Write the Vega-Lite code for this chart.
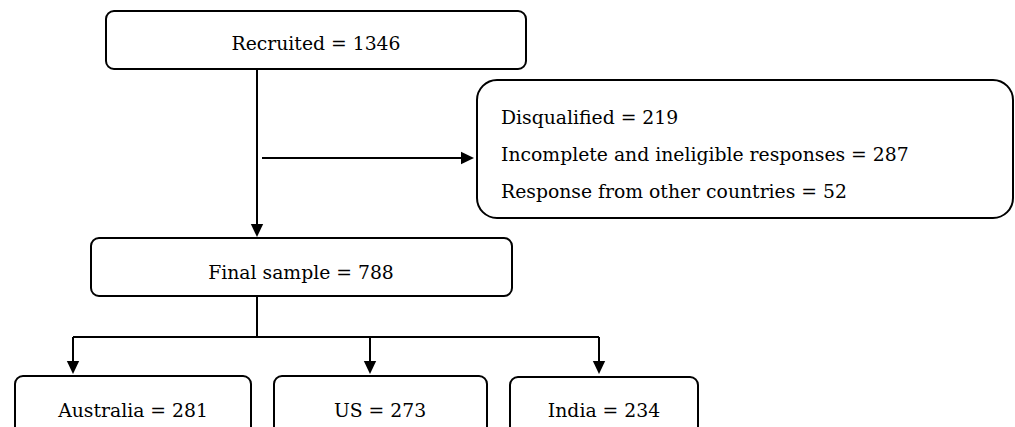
{
  "$schema": "https://vega.github.io/schema/vega-lite/v6.json",
  "width": 1015,
  "height": 427,
  "padding": 0,
  "autosize": {"type": "fit", "contains": "padding"},
  "background": "white",
  "config": {"view": {"stroke": null}},
  "datasets": {
    "boxes": [
      {"node": "Recruited", "x1": 106, "x2": 526, "y1": 11, "y2": 69, "kind": "small"},
      {"node": "Final sample", "x1": 91, "x2": 512, "y1": 238, "y2": 296, "kind": "small"},
      {"node": "Australia", "x1": 15, "x2": 251, "y1": 376, "y2": 440, "kind": "small"},
      {"node": "US", "x1": 274, "x2": 487, "y1": 376, "y2": 440, "kind": "small"},
      {"node": "India", "x1": 510, "x2": 698, "y1": 377, "y2": 440, "kind": "small"}
    ],
    "bigbox": [
      {"node": "Excluded", "x1": 477, "x2": 1013, "y1": 80, "y2": 218}
    ],
    "centerLabels": [
      {"label": "Recruited = 1346", "x": 316, "y": 50},
      {"label": "Final sample = 788", "x": 301, "y": 279},
      {"label": "Australia = 281", "x": 133, "y": 417},
      {"label": "US = 273", "x": 380, "y": 417},
      {"label": "India = 234", "x": 604, "y": 417}
    ],
    "leftLabels": [
      {"label": "Disqualified = 219", "x": 501, "y": 124},
      {"label": "Incomplete and ineligible responses = 287", "x": 501, "y": 161},
      {"label": "Response from other countries = 52", "x": 501, "y": 198}
    ],
    "lines": [
      {"x1": 257, "y1": 69, "x2": 257, "y2": 226},
      {"x1": 262, "y1": 158, "x2": 463, "y2": 158},
      {"x1": 257, "y1": 296, "x2": 257, "y2": 337},
      {"x1": 73, "y1": 337, "x2": 599, "y2": 337},
      {"x1": 73, "y1": 337, "x2": 73, "y2": 363},
      {"x1": 370, "y1": 337, "x2": 370, "y2": 363},
      {"x1": 599, "y1": 337, "x2": 599, "y2": 363}
    ],
    "arrows": [
      {"x": 257, "y": 230.5, "dir": "down"},
      {"x": 467.5, "y": 158, "dir": "right"},
      {"x": 73, "y": 367.5, "dir": "down"},
      {"x": 370, "y": 367.5, "dir": "down"},
      {"x": 599, "y": 367.5, "dir": "down"}
    ]
  },
  "layer": [
    {
      "data": {"name": "boxes"},
      "mark": {"type": "rect", "fill": "white", "stroke": "black", "strokeWidth": 2, "cornerRadius": 8, "clip": true},
      "encoding": {
        "x": {"field": "x1", "type": "quantitative", "scale": {"domain": [0, 1015], "nice": false, "zero": false}, "axis": null},
        "x2": {"field": "x2"},
        "y": {"field": "y1", "type": "quantitative", "scale": {"domain": [427, 0], "nice": false, "zero": false}, "axis": null},
        "y2": {"field": "y2"}
      }
    },
    {
      "data": {"name": "bigbox"},
      "mark": {"type": "rect", "fill": "white", "stroke": "black", "strokeWidth": 2, "cornerRadius": 20, "clip": true},
      "encoding": {
        "x": {"field": "x1", "type": "quantitative", "axis": null},
        "x2": {"field": "x2"},
        "y": {"field": "y1", "type": "quantitative", "axis": null},
        "y2": {"field": "y2"}
      }
    },
    {
      "data": {"name": "lines"},
      "mark": {"type": "rule", "color": "black", "strokeWidth": 2, "clip": true},
      "encoding": {
        "x": {"field": "x1", "type": "quantitative", "axis": null},
        "x2": {"field": "x2"},
        "y": {"field": "y1", "type": "quantitative", "axis": null},
        "y2": {"field": "y2"}
      }
    },
    {
      "data": {"name": "arrows"},
      "mark": {"type": "point", "filled": true, "color": "black", "opacity": 1, "size": 169, "strokeWidth": 0, "clip": true},
      "encoding": {
        "x": {"field": "x", "type": "quantitative", "axis": null},
        "y": {"field": "y", "type": "quantitative", "axis": null},
        "shape": {
          "field": "dir", "type": "nominal", "legend": null,
          "scale": {"domain": ["down", "right"], "range": ["M-0.95,-1L0.95,-1L0,1Z", "M-1,-0.95L-1,0.95L1,0Z"]}
        }
      }
    },
    {
      "data": {"name": "centerLabels"},
      "mark": {"type": "text", "font": "DejaVu Serif", "fontSize": 18.8, "color": "black", "align": "center", "baseline": "alphabetic", "clip": true},
      "encoding": {
        "x": {"field": "x", "type": "quantitative", "axis": null},
        "y": {"field": "y", "type": "quantitative", "axis": null},
        "text": {"field": "label"}
      }
    },
    {
      "data": {"name": "leftLabels"},
      "mark": {"type": "text", "font": "DejaVu Serif", "fontSize": 18.8, "color": "black", "align": "left", "baseline": "alphabetic", "clip": true},
      "encoding": {
        "x": {"field": "x", "type": "quantitative", "axis": null},
        "y": {"field": "y", "type": "quantitative", "axis": null},
        "text": {"field": "label"}
      }
    }
  ]
}
